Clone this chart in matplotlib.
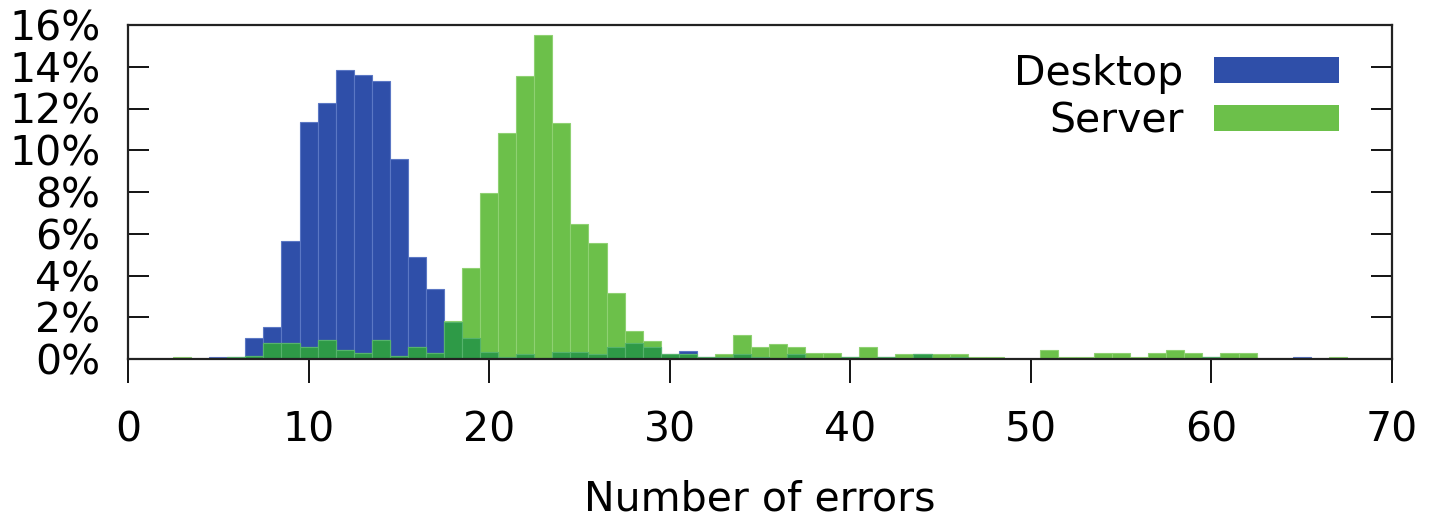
#!/usr/bin/env python3
# -*- coding: utf-8 -*-
"""
Histograma do numero de erros (Desktop vs Server), em % das execucoes.
Barras de largura 1 centradas em cada inteiro; sobreposicao em verde escuro.
"""
import numpy as np
import matplotlib
matplotlib.use("Agg")
import matplotlib.pyplot as plt
from matplotlib.patches import Patch

# Numero de erros (centro de cada barra)
ERROS = list(range(3, 68))

# Percentual de execucoes por numero de erros
DESKTOP = [
    0.0, 0.0, 0.1, 0.1, 1.0, 1.52, 5.67, 11.37, 12.28, 13.84,      # 3-12
    13.6, 13.33, 9.56, 4.9, 3.34, 1.79, 0.99, 0.32, 0.08, 0.22,    # 13-22
    0.03, 0.32, 0.32, 0.22, 0.59, 0.75, 0.59, 0.26, 0.36, 0.1,     # 23-32
    0.08, 0.22, 0.08, 0.03, 0.24, 0.0, 0.0, 0.1, 0.0, 0.1,         # 33-42
    0.0, 0.24, 0.0, 0.08, 0.0, 0.0, 0.0, 0.0, 0.0, 0.0,            # 43-52
    0.0, 0.0, 0.0, 0.0, 0.0, 0.0, 0.0, 0.1, 0.0, 0.0,              # 53-62
    0.0, 0.0, 0.1, 0.0, 0.0,                                       # 63-67
]
SERVER = [
    0.11, 0.0, 0.0, 0.1, 0.15, 0.75, 0.75, 0.56, 0.91, 0.43,       # 3-12
    0.27, 0.91, 0.14, 0.59, 0.27, 1.8, 4.36, 7.97, 10.84, 13.56,   # 13-22
    15.52, 11.29, 6.47, 5.57, 3.15, 1.32, 0.86, 0.26, 0.26, 0.1,   # 23-32
    0.25, 1.17, 0.59, 0.73, 0.59, 0.27, 0.27, 0.1, 0.57, 0.1,      # 33-42
    0.24, 0.24, 0.24, 0.24, 0.1, 0.1, 0.0, 0.0, 0.43, 0.1,         # 43-52
    0.1, 0.27, 0.27, 0.1, 0.27, 0.43, 0.27, 0.1, 0.27, 0.27,       # 53-62
    0.0, 0.0, 0.0, 0.0, 0.1,                                       # 63-67
]

Y_TICKS = [0, 2, 4, 6, 8, 10, 12, 14, 16]
X_TICKS = [0, 10, 20, 30, 40, 50, 60, 70]

AZUL = "#2f4fa9"
VERDE = "#6cc04a"
VERDE_ESCURO = "#2e9a47"
FS = 29.5

plt.rcParams["font.family"] = "DejaVu Sans"

fig = plt.figure(figsize=(14.29, 5.18), dpi=100)
ax = fig.add_axes([128 / 1429, 1 - 359 / 518, (1392 - 128) / 1429, (359 - 25) / 518])

x = np.array(ERROS)
d = np.array(DESKTOP)
s = np.array(SERVER)

# Desktop, depois Server por cima, depois a parte comum em verde escuro
ax.bar(x, d, width=1, color=AZUL, edgecolor="#5b77c4", linewidth=0.8)
ax.bar(x, s, width=1, color=VERDE, edgecolor="#8fd172", linewidth=0.8)
ax.bar(x, np.minimum(d, s), width=1, color=VERDE_ESCURO, edgecolor="#55b36c", linewidth=0.8)

ax.set_xlim(0, 70)
ax.set_ylim(0, 16)
ax.set_xticks(X_TICKS)
ax.set_yticks(Y_TICKS)
ax.set_yticklabels([f"{v}%" for v in Y_TICKS])

ax.tick_params(axis="x", direction="out", length=17, width=1.3, pad=20, labelsize=FS)
ax.tick_params(axis="y", direction="in", length=15, width=1.3, pad=20, labelsize=FS,
               right=True)
for sp in ax.spines.values():
    sp.set_linewidth(1.6)
    sp.set_color("#222222")

ax.set_xlabel("Number of errors", fontsize=FS, labelpad=21)

handles = [Patch(facecolor=AZUL, label="Desktop"), Patch(facecolor=VERDE, label="Server")]
ax.legend(handles=handles, loc="upper right", bbox_to_anchor=(0.981, 1.0),
          frameon=False, markerfirst=False, fontsize=FS, handlelength=3.05,
          handleheight=0.6, handletextpad=0.75, labelspacing=0.2, borderaxespad=0.3)

fig.savefig("out.png", dpi=100)
plt.close(fig)
